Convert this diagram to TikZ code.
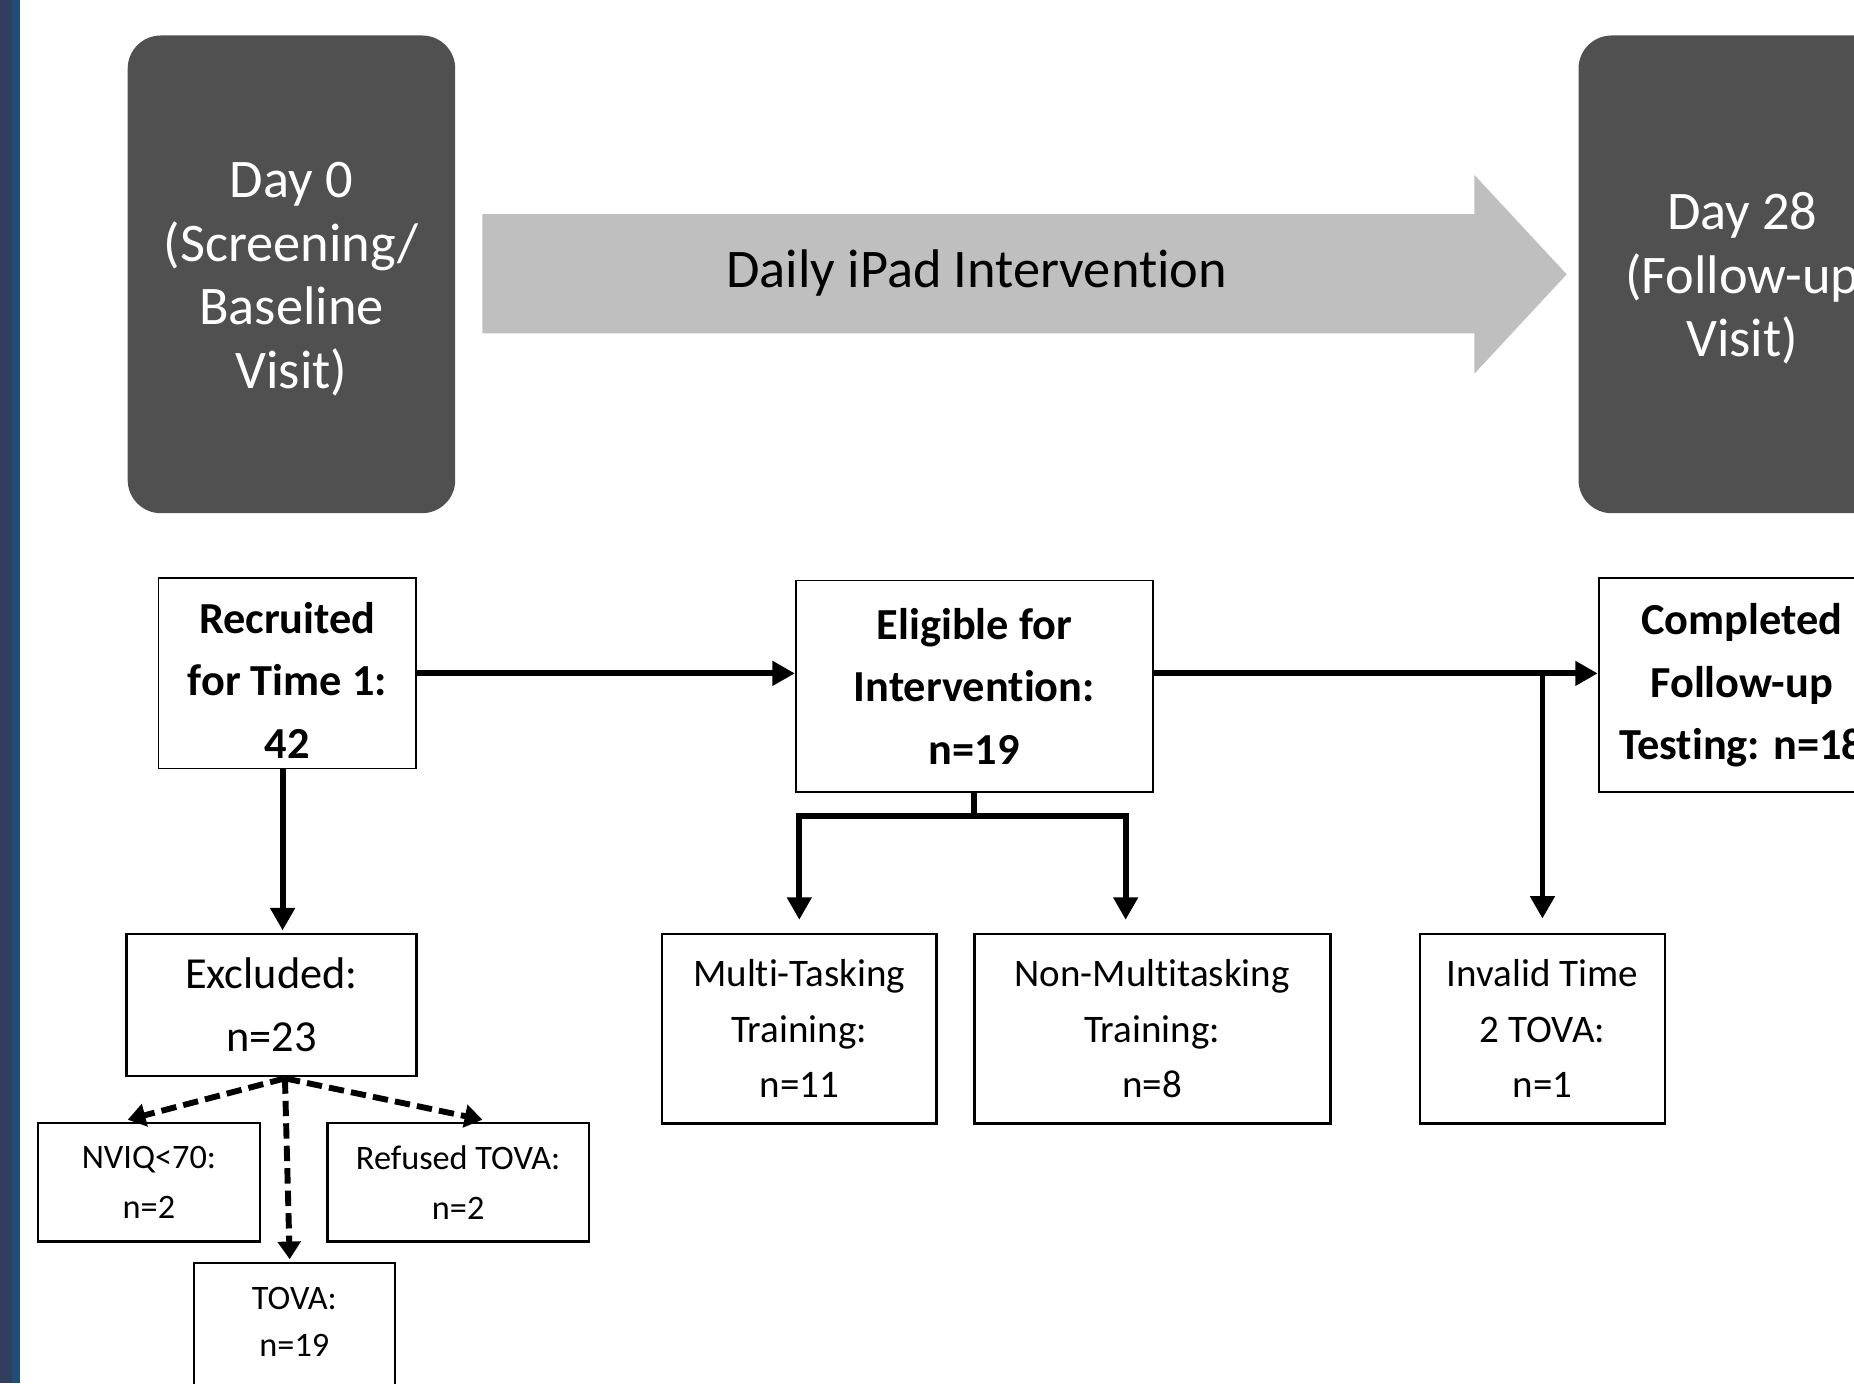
\documentclass[tikz,border=0pt]{standalone}
\usepackage{fontspec}
\setmainfont{Carlito}[Ligatures=NoCommon, Contextuals=NoAlternate]
\usetikzlibrary{arrows.meta, positioning}
\usepackage{xcolor}
\definecolor{dayfill}{HTML}{505050}
\definecolor{bandgray}{HTML}{BFBFBF}
\definecolor{barnavy}{HTML}{323E5D}
\definecolor{barblue}{HTML}{1F4E79}

\begin{document}
\begin{tikzpicture}[x=1pt, y=-1pt,
        daybox/.style={rectangle, rounded corners=28pt, fill=dayfill, text=white, inner sep=0pt, minimum width=277pt, minimum height=404pt, align=center, font=\fontsize{46}{54}\selectfont},
        stagebox/.style={rectangle, draw, line width=1.5pt, inner sep=0pt, align=center, font=\fontsize{37.5}{53}\selectfont\bfseries},
        groupbox/.style={rectangle, draw, line width=2.2pt, inner sep=0pt, align=center, minimum height=160pt, font=\fontsize{33}{47}\selectfont},
        smallbox/.style={rectangle, draw, line width=2pt, inner sep=0pt, align=center, minimum height=100pt, font=\fontsize{29}{42}\selectfont},
        flow/.style={line width=5pt, -{Triangle[length=19pt, width=20pt]}},
        dashflow/.style={line width=5pt, dash pattern=on 13pt off 6pt, -{Triangle[length=15pt, width=19pt]}},
        barline/.style={line width=5pt}]
        \useasboundingbox (0,0) rectangle (1568,1170);
        \clip (0,0) rectangle (1568,1170);
        \fill[white] (0,0) rectangle (1568,1170);
        \fill[barnavy] (0,0) rectangle (10,1170);
        \fill[barblue] (10,0) rectangle (17,1170);

        % timeline
        \node[daybox] (day0) at (246.5,232) {\rule{0pt}{38pt}Day 0\\(Screening/\\Baseline\\Visit)};
        \node[daybox] (day28) at (1473.5,232) {\rule{0pt}{38pt}Day 28\\(Follow-up\\Visit)};
        \fill[bandgray] (408,181) -- (1247,181) -- (1247,148) -- (1325,232) -- (1247,316) -- (1247,282) -- (408,282) -- cycle;
        \node[font=\fontsize{46}{54}\selectfont] (daily) at (826,231) {Daily iPad Intervention};

        % flow
        \node[stagebox, minimum width=218pt, minimum height=161pt] (recruit) at (243,569.5) {\rule{0pt}{38pt}Recruited\\for Time 1:\\42};
        \node[stagebox, minimum width=302pt, minimum height=179pt] (eligible) at (824,580.5) {Eligible for\\Intervention:\\n=19};
        \node[stagebox, minimum width=242pt, minimum height=181pt] (completed) at (1473,579.5) {Completed\\Follow-up\\Testing: n=18};

        \node[groupbox, minimum width=245pt, minimum height=120pt, font=\fontsize{37.5}{53}\selectfont] (excluded) at (229.5,850) {Excluded:\\n=23};
        \node[groupbox, minimum width=232pt] (multi) at (676,870) {Multi-Tasking\\Training:\\n=11};
        \node[groupbox, minimum width=301pt] (nonmulti) at (974.5,870) {Non-Multitasking\\Training:\\n=8};
        \node[groupbox, minimum width=207pt] (invalid) at (1304.5,870) {Invalid Time\\2 TOVA:\\n=1};

        \node[smallbox, minimum width=188pt] (nviq) at (126,1000) {NVIQ<70:\\n=2};
        \node[smallbox, minimum width=221pt] (refused) at (387.5,1000) {Refused TOVA:\\n=2};
        \node[smallbox, minimum width=170pt, minimum height=140pt] (tovabox) at (249,1138) {};
        \node[font=\fontsize{29}{40}\selectfont, align=center] (tova) at (249,1118) {TOVA:\\n=19};

        \draw[flow] (recruit.east) -- (recruit.east -| eligible.west);
        \draw[flow] (recruit.east -| eligible.east) -- (recruit.east -| completed.west);
        \draw[flow] (recruit.east -| invalid.north) -- ([yshift=12pt]invalid.north);
        \draw[flow] ([xshift=-4pt]recruit.south) -- ([xshift=9.5pt,yshift=2pt]excluded.north);

        \coordinate (splitL) at (676,690);
        \coordinate (splitR) at (952,690);
        \draw[barline] (eligible.south) -- (eligible.south |- splitL);
        \draw[barline, line cap=rect] (splitL) -- (splitR);
        \draw[flow] (splitL) -- ([yshift=11pt]multi.north);
        \draw[flow] (splitR) -- ([xshift=-22.5pt,yshift=11pt]nonmulti.north);

        \coordinate (exfan) at (241,912);
        \draw[dashflow] (exfan) -- ([xshift=-18pt,yshift=2pt]nviq.north);
        \draw[dashflow] (exfan) -- ([xshift=20.5pt,yshift=2pt]refused.north);
        \draw[dashflow] (exfan) -- ([xshift=-4pt,yshift=2pt]tovabox.north);
\end{tikzpicture}
\end{document}
